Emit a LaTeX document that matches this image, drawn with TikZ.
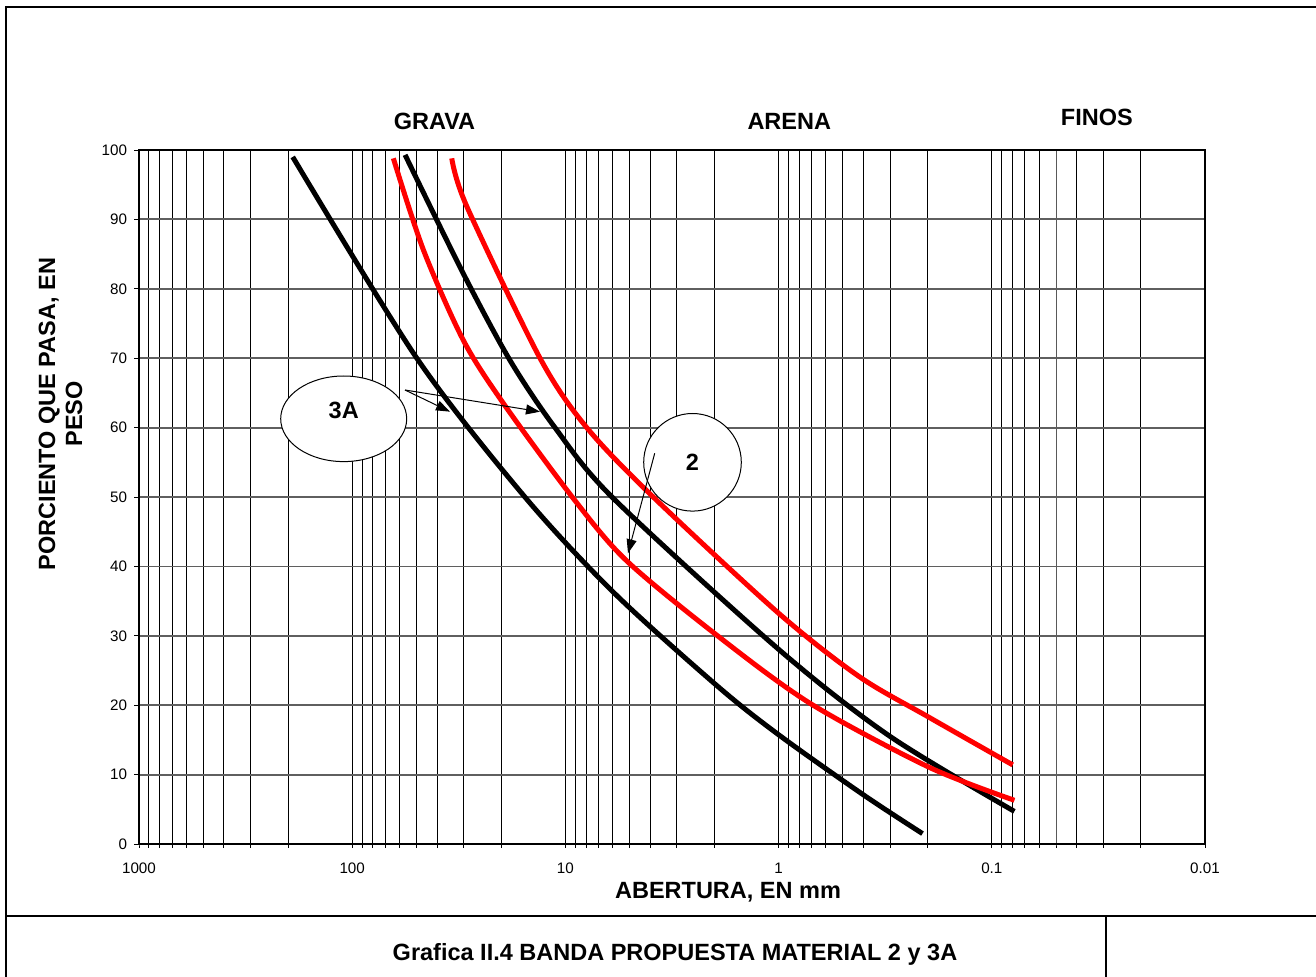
\documentclass[tikz,border=0pt]{standalone}
\usepackage{fontspec}
\setmainfont{Liberation Sans}
\usetikzlibrary{arrows.meta,shapes.geometric}

\definecolor{bandRed}{RGB}{255,0,0}
\definecolor{gridGray}{RGB}{95,95,95}

\tikzset{
  labelText/.style={font=\bfseries\fontsize{11.75}{13.5}\selectfont,inner sep=0pt,outer sep=0pt},
  tickText/.style={font=\fontsize{7.6}{9}\selectfont,inner sep=0pt,outer sep=0pt},
  frameLine/.style={draw=black,line width=1pt},
  gridMinor/.style={draw=black,line width=0.45pt},
  gridMajor/.style={draw=gridGray,line width=0.9pt},
  bandCurve/.style={line width=2.5pt,line join=round},
  callout/.style={draw=black,fill=white,line width=0.5pt,inner sep=0pt},
  pointer/.style={draw=black,line width=0.5pt,-{Triangle[length=7pt,width=5pt]}}
}

\begin{document}
\begin{tikzpicture}[x=0.5pt,y=0.5pt]
\path[use as bounding box] (0,0) rectangle (1316,976);

\path[frameLine] (1330,969.3) -- (6.3,969.3) -- (6.3,-10);
\path[frameLine] (6.3,60) -- (1330,60);
\path[frameLine] (1105.7,60) -- (1105.7,-10);

\begin{scope}[shift={(69.5pt,66pt)},x=106.6pt,y=3.47pt]
\path[gridMinor] (0,100) -- (0,0) -- ++(0,-2.2pt);
\foreach \d in {0,...,4}
  \foreach \m in {1,...,9}{
    \pgfmathsetmacro{\u}{\d+1-log10(\m)}
    \path[gridMinor] (\u,100) -- (\u,0) -- ++(0,-2.2pt);
  }
\foreach \p in {10,20,...,90}
  \path[gridMajor] (0,\p) -- (5,\p);
\foreach \p in {0,10,...,100}{
  \path[gridMinor] (0,\p) -- ++(-2.5pt,0);
  \node[tickText,anchor=east] (ylab\p) at ([xshift=-6pt]0,\p) {\p};
}
\foreach \u/\t in {0/1000,1/100,2/10,3/1,4/0.1,5/0.01}
  \node[tickText,anchor=base] (xlab\u) at ([yshift=-14.5pt]\u,0) {\t};
\path[draw=black,line width=1.2pt] (0,0) rectangle (5,100);
\end{scope}

\node[callout,ellipse,minimum width=63pt,minimum height=42.8pt,font=\bfseries\fontsize{11.75}{13.5}\selectfont,text height=8.3pt,text depth=8.3pt] (tag3A) at (343.7,557.2) {3A};
\node[callout,circle,minimum size=48.8pt,font=\bfseries\fontsize{11.75}{13.5}\selectfont] (tag2) at (692.5,513.7) {2};

\begin{scope}[shift={(69.5pt,66pt)},x=106.6pt,y=3.47pt]
\draw[bandCurve,black] plot[smooth] coordinates {(0.721,99.0) (1.303,70.0) (1.81,50.0) (2.231,36.1) (2.715,22.7) (3.002,15.7) (3.397,7.1) (3.675,1.5)};
\draw[bandCurve,black] plot[smooth] coordinates {(1.248,99.3) (1.521,82.2) (1.740,69.7) (1.951,60) (2.225,49.8) (3.002,28.0) (3.523,15.5) (4.106,4.7)};
\draw[bandCurve,bandRed] plot[smooth] coordinates {(1.193,98.8) (1.334,85.6) (1.521,72.6) (1.709,63.5) (2.037,49.8) (2.284,40.9) (2.697,30.4) (3.146,20.3) (3.703,11.1) (4.106,6.3)};
\draw[bandCurve,bandRed] plot[smooth] coordinates {(1.467,98.8) (1.537,91.9) (1.881,70) (2.100,60) (2.412,50) (3.002,33.2) (3.379,24.1) (3.703,18.3) (4.098,11.4)};
\end{scope}

\coordinate (src3A) at (405,586);
\coordinate (tipLow) at (450,564.3);
\coordinate (tipUp) at (540,564.3);
\coordinate (src2) at (654.7,522.7);
\coordinate (tip2) at (628,422.7);
\draw[pointer] (src3A) -- (tipLow);
\draw[pointer] (src3A) -- (tipUp);
\draw[pointer] (src2) -- (tip2);

\node[labelText,anchor=base] (grava) at (434.5,846) {GRAVA};
\node[labelText,anchor=base] (arena) at (789.3,846) {ARENA};
\node[labelText,anchor=base] (finos) at (1096.8,850) {FINOS};
\node[labelText,anchor=base] (abertura) at (728,78) {ABERTURA, EN mm};
\node[labelText,rotate=90,align=center] (porciento) at (60.5,562) {PORCIENTO QUE PASA, EN\\PESO};
\node[labelText,anchor=base] (titulo) at (675,16) {Grafica II.4 BANDA PROPUESTA MATERIAL 2 y 3A};
\end{tikzpicture}
\end{document}
